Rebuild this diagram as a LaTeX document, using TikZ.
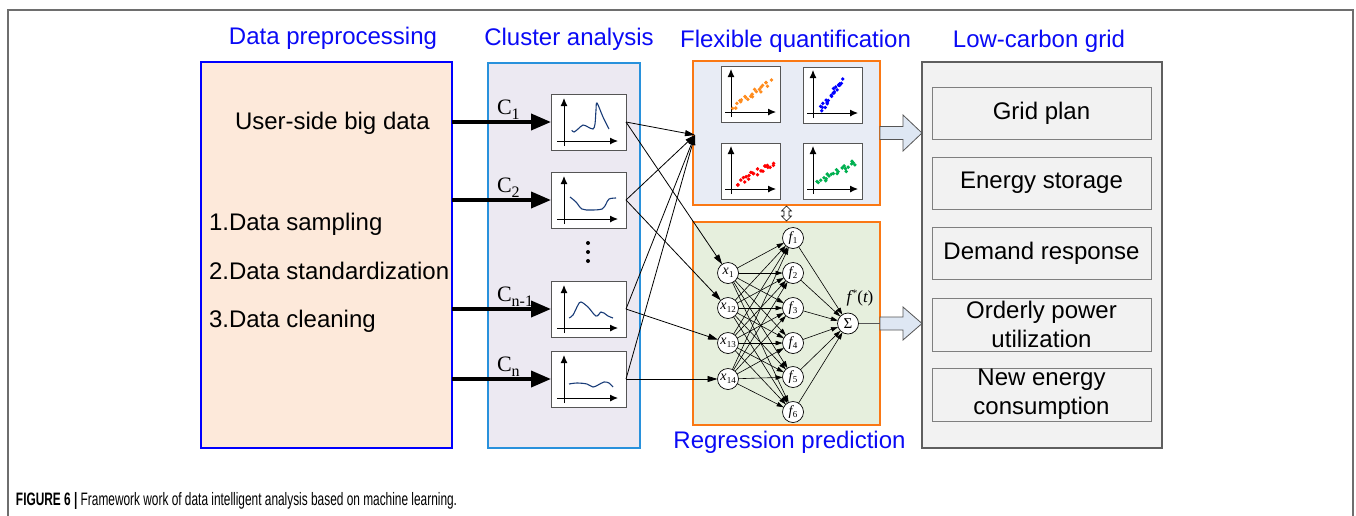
\documentclass[tikz,border=0pt]{standalone}
\usepackage{fontspec}
\setmainfont{Liberation Sans}
\newfontfamily\serifface{Liberation Serif}
\newfontfamily\capface[FakeStretch=0.66]{Liberation Sans}
\usetikzlibrary{arrows.meta,calc}

\definecolor{ttlblue}{RGB}{10,10,245}
\definecolor{prefill}{RGB}{253,233,218}
\definecolor{preline}{RGB}{0,0,255}
\definecolor{clfill}{RGB}{236,233,242}
\definecolor{clline}{RGB}{40,145,220}
\definecolor{orng}{RGB}{250,120,20}
\definecolor{flexfill}{RGB}{232,236,245}
\definecolor{regfill}{RGB}{230,239,221}
\definecolor{gridfill}{RGB}{242,242,242}
\definecolor{gridline}{RGB}{95,95,95}
\definecolor{boxgray}{RGB}{85,85,85}
\definecolor{curveblue}{RGB}{25,60,120}
\definecolor{hollowfill}{RGB}{222,231,243}
\definecolor{dotorange}{RGB}{255,140,30}
\definecolor{dotblue}{RGB}{0,0,255}
\definecolor{dotred}{RGB}{255,0,0}
\definecolor{dotgreen}{RGB}{0,176,80}
\definecolor{framegray}{RGB}{110,110,110}

% axes with arrow tips inside a small plot box (local coordinates, y down)
\newcommand\plotaxes[6]{%
  \draw[line width=1pt,-{Latex[length=8pt,width=7pt]}] (#1,#3) -- (#1,#2);
  \draw[line width=1pt,-{Latex[length=8pt,width=7pt]}] (#5,#4) -- (#6,#4);}

% scattered points along a rising trend
\newcommand\trenddots[6]{%
  \pgfmathsetseed{#6}
  \foreach \k in {0,...,21}{
    \pgfmathsetmacro\tt{\k/21}
    \pgfmathsetmacro\px{#2+\tt*(#4-#2)+1.5*rand}
    \pgfmathsetmacro\py{#3+\tt*(#5-#3)+3.5*rand}
    \fill[#1] (\px,\py) circle (1.9);
  }}

\newcommand\nnlab[2]{{\serifface\fontsize{14}{14}\selectfont\itshape #1\kern0.3pt\raisebox{-2.5pt}{\fontsize{9}{9}\selectfont\upshape #2}}}
\newcommand\clab[1]{{\serifface\fontsize{22}{22}\selectfont C\raisebox{-5pt}{\fontsize{16}{16}\selectfont #1}}}

\begin{document}
\begin{tikzpicture}[x=1pt,y=-1pt,
  every node/.style={inner sep=0pt,outer sep=0pt},
  ttl/.style={text=ttlblue,font=\fontsize{24}{24}\selectfont,anchor=base},
  txt/.style={font=\fontsize{24}{29}\selectfont},
  chartbox/.style={draw=boxgray,fill=white,line width=1pt,minimum width=75pt,minimum height=56pt,anchor=north west},
  scatbox/.style={draw=boxgray,fill=white,line width=1pt,minimum width=59pt,minimum height=56pt,anchor=north west},
  gridbox/.style={draw=gridline!80,fill=gridfill,line width=1pt,minimum width=219pt,minimum height=52pt,anchor=north west,align=center,font=\fontsize{24}{29}\selectfont},
  neuron/.style={circle,draw,fill=white,line width=0.7pt,minimum size=21pt},
  bigarrow/.style={line width=3.8pt,-{Triangle[length=20pt,width=16pt]}},
  link/.style={line width=0.8pt,-{Triangle[length=10pt,width=6pt]}},
  nnlink/.style={line width=0.6pt,-{Triangle[length=7pt,width=4.5pt]}},
  hollow/.style={draw=boxgray,fill=hollowfill,line width=0.8pt,line join=miter},
  curve/.style={curveblue,line width=1.1pt,smooth,tension=0.55}]

\useasboundingbox (0,0) rectangle (1356,515);

% page frame (open at the bottom)
\draw[framegray,line width=1.2pt] (8,520) -- (8,10) -- (1353,10) -- (1353,520);

% ---------- panels ----------
\node[draw=preline,fill=prefill,line width=2pt,minimum width=251pt,minimum height=386pt,anchor=north west] (pre) at (201,62) {};
\node[draw=clline,fill=clfill,line width=2pt,minimum width=152pt,minimum height=385pt,anchor=north west] (clu) at (488,63) {};
\node[draw=orng,fill=flexfill,line width=2.6pt,minimum width=187pt,minimum height=144pt,anchor=north west] (flex) at (693,61) {};
\node[draw=orng,fill=regfill,line width=2.6pt,minimum width=187pt,minimum height=203pt,anchor=north west] (reg) at (693,222) {};
\node[draw=gridline,fill=gridfill,line width=1.3pt,minimum width=240pt,minimum height=386pt,anchor=north west] (grid) at (922,62) {};

% ---------- titles ----------
\node[ttl] (tpre) at (333,44) {Data preprocessing};
\node[ttl] (tclu) at (569,45) {Cluster analysis};
\node[ttl] (tflex) at (795.5,47) {Flexible quantification};
\node[ttl] (tgrid) at (1039,47) {Low-carbon grid};
\node[ttl] (treg) at (789.5,448) {Regression prediction};

% ---------- preprocessing texts ----------
\node[txt,anchor=base west] (ubd) at (235,129) {User-side big data};
\node[txt,anchor=base west] (s1) at (209,230) {1.Data sampling};
\node[txt,anchor=base west] (s2) at (209,279) {2.Data standardization};
\node[txt,anchor=base west] (s3) at (209,327) {3.Data cleaning};

% ---------- cluster curve boxes ----------
\node[chartbox] (cb1) at (551,94) {};
\node[chartbox] (cb2) at (551,172) {};
\node[chartbox] (cb3) at (551,281) {};
\node[chartbox] (cb4) at (551,351) {};

\begin{scope}[shift={(cb1.north west)}]
  \plotaxes{13}{4}{52}{47}{6}{67}
  \draw[curve] plot coordinates {(20.7,36.3) (23,38) (27,35) (32,31) (37,33) (42,35) (44,30) (45,16) (46,9) (52,23) (58,35)};
\end{scope}
\begin{scope}[shift={(cb2.north west)}]
  \plotaxes{13}{4}{52}{47}{6}{67}
  \draw[curve] plot coordinates {(19,25) (25,30) (31,37) (40,38) (51,37) (55,32) (58,27) (65,26)};
\end{scope}
\begin{scope}[shift={(cb3.north west)}]
  \plotaxes{13}{4}{52}{47}{6}{67}
  \draw[curve] plot coordinates {(18,37) (22,34) (27,24) (30,21) (37,26) (45,35) (50,31) (53,32) (57,35) (62,37)};
\end{scope}
\begin{scope}[shift={(cb4.north west)}]
  \plotaxes{13}{4}{52}{47}{6}{67}
  \draw[curve] plot coordinates {(18,33) (26,32) (36,33) (42,36) (47,34) (53,31) (58,32) (62,36)};
\end{scope}

% vertical ellipsis between the cluster boxes
\foreach \yy [count=\i] in {243,252,261}
  \fill (588,\yy) circle (2) coordinate (dot\i);

% ---------- thick arrows with class labels ----------
\foreach \b in {cb1,cb2,cb3,cb4}
  \draw[bigarrow] (pre.east |- \b.west) -- (\b.west);
\node[anchor=base west] (c1) at (497,114) {\clab{1}};
\node[anchor=base west] (c2) at (497,192) {\clab{2}};
\node[anchor=base west] (c3) at (497,301) {\clab{n-1}};
\node[anchor=base west] (c4) at (497,371) {\clab{n}};

% ---------- flexible quantification scatter plots ----------
\node[scatbox] (sp1) at (721,66) {};
\node[scatbox] (sp2) at (803,67) {};
\node[scatbox] (sp3) at (721,143) {};
\node[scatbox] (sp4) at (803,143) {};
\begin{scope}[shift={(sp1.north west)}]
  \plotaxes{10}{3}{51}{46}{4}{55}
  \trenddots{dotorange}{13}{41}{49}{16}{3}
\end{scope}
\begin{scope}[shift={(sp2.north west)}]
  \plotaxes{10}{3}{51}{46}{4}{55}
  \trenddots{dotblue}{18}{44}{39}{13}{5}
\end{scope}
\begin{scope}[shift={(sp3.north west)}]
  \plotaxes{10}{3}{51}{46}{4}{55}
  \trenddots{dotred}{16}{40}{53}{20}{8}
\end{scope}
\begin{scope}[shift={(sp4.north west)}]
  \plotaxes{10}{3}{51}{46}{4}{55}
  \trenddots{dotgreen}{14}{40}{53}{19}{13}
\end{scope}

% ---------- neural network ----------
\node[neuron] (x1) at (728,273) {\nnlab{x}{1}};
\node[neuron] (x2) at (728,308) {\nnlab{x}{12}};
\node[neuron] (x3) at (728,343) {\nnlab{x}{13}};
\node[neuron] (x4) at (728,379) {\nnlab{x}{14}};
\foreach \yy [count=\j] in {238,273,308,343,377,412}
  \node[neuron] (f\j) at (793,\yy) {\nnlab{f}{\j}};
\node[neuron] (sig) at (848,323.5) {\serifface\fontsize{15}{15}\selectfont Σ};
\node[anchor=base] (fstar) at (860,302) {\serifface\fontsize{17}{17}\selectfont\itshape f\kern1pt\raisebox{6pt}{\fontsize{10}{10}\selectfont\upshape *}\upshape(\itshape t\upshape)};

\foreach \i in {1,...,4}
  \foreach \j in {1,...,6}
    \draw[nnlink] (x\i) -- (f\j);
\foreach \j in {1,...,6}
  \draw[nnlink] (f\j) -- (sig);
\draw[line width=0.8pt,boxgray] (sig) -- (sig -| reg.east);

% ---------- links from cluster boxes ----------
\coordinate (conv) at (695,135);
\foreach \b in {cb1,cb2,cb3,cb4}
  \draw[link] (\b.east) -- (conv);
\draw[link] (cb1.east) -- (x1);
\draw[link] (cb2.east) -- (x2);
\draw[link] (cb3.east) -- (x3);
\draw[link] (cb4.east) -- (x4);

% ---------- double arrow between the two middle panels ----------
\draw[fill=white,line width=0.6pt] ($(flex.south)+(0,1)$) -- ++(5,5) -- ++(-2.5,0) -- ++(0,5) -- ++(2.5,0)
  -- ++(-5,5) -- ++(-5,-5) -- ++(2.5,0) -- ++(0,-5) -- ++(-2.5,0) -- cycle;

% ---------- block arrows into the grid panel ----------
\draw[hollow] ($(flex.east)+(0,-6.5)$) -- ++(23,0) -- ++(0,-11.5) -- (grid.west |- flex.east)
  -- ($(flex.east)+(23,18)$) -- ++(0,-11.5) -- ++(-23,0) -- cycle;
\draw[hollow] ($(reg.east)+(0,-6.5)$) -- ++(23,0) -- ++(0,-10) -- (grid.west |- reg.east)
  -- ($(reg.east)+(23,16.5)$) -- ++(0,-10) -- ++(-23,0) -- cycle;

% ---------- low-carbon grid items ----------
\node[gridbox] (g1) at (932,87) {Grid plan};
\node[gridbox] (g2) at (932,157) {Energy storage};
\node[gridbox] (g3) at (932,227) {Demand response};
\node[gridbox,minimum height=53pt] (g4) at (932,298) {Orderly power\\utilization};
\node[gridbox,minimum height=53pt] (g5) at (932,368) {New energy\\consumption};

% ---------- caption ----------
\node[anchor=base west,font=\capface\fontsize{18}{18}\selectfont] (cap) at (16,505)
  {\textbf{FIGURE 6 |} Framework work of data intelligent analysis based on machine learning.};

\end{tikzpicture}
\end{document}
